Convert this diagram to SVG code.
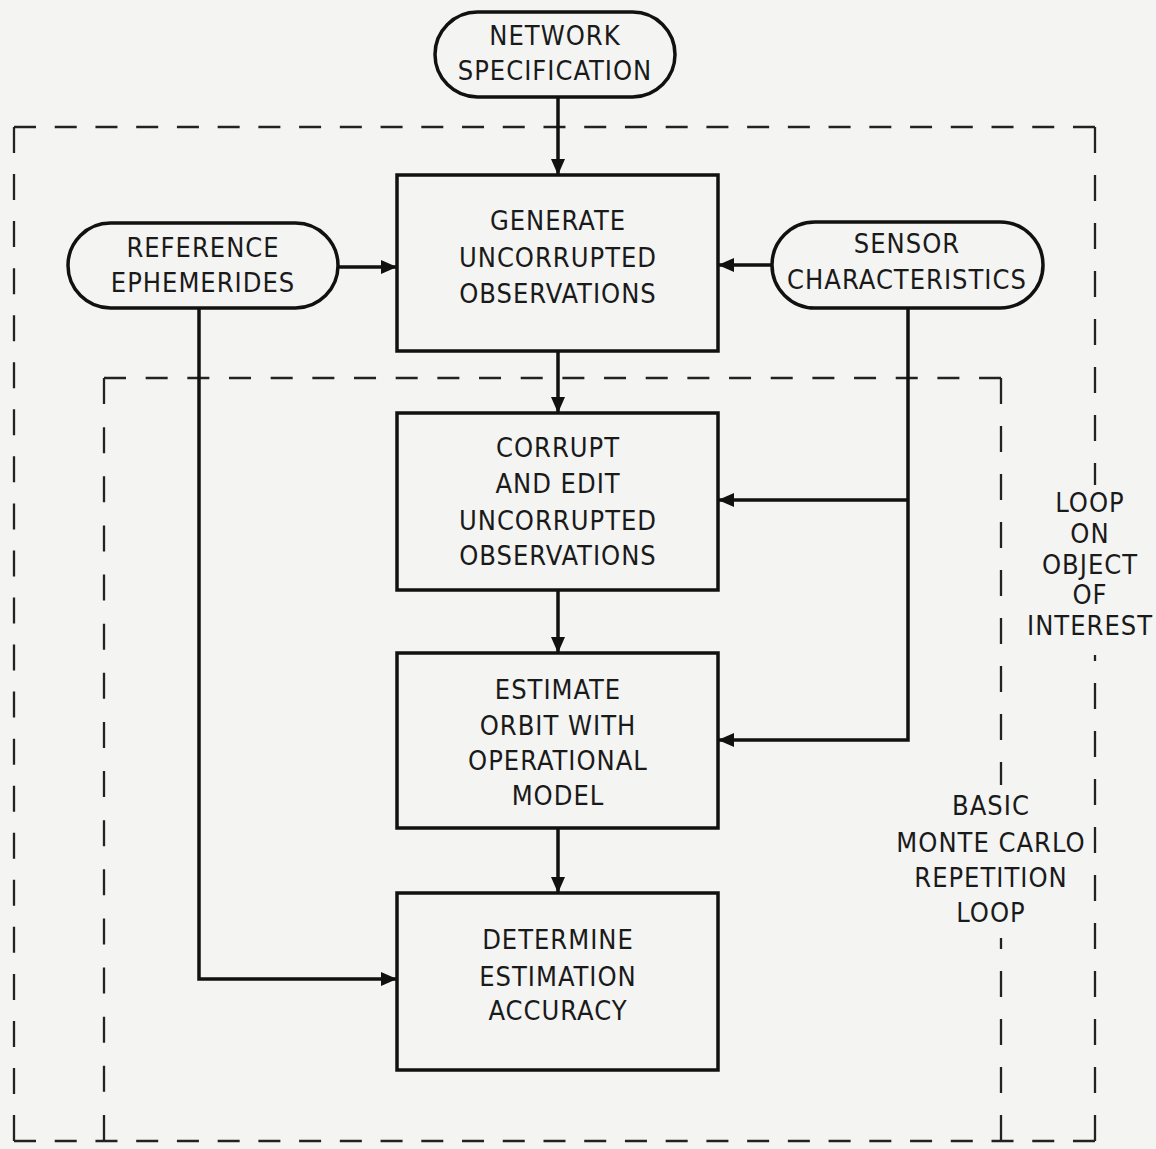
<svg xmlns="http://www.w3.org/2000/svg" width="1156" height="1149" viewBox="0 0 1156 1149">
<defs>
<marker id="ah" markerUnits="userSpaceOnUse" markerWidth="18" markerHeight="14" refX="16" refY="7" orient="auto">
<path d="M0,0 L16,7 L0,14 Z" fill="#111"/>
</marker>
<style>
.bg{fill:#f4f4f3}
.box{fill:none;stroke:#111;stroke-width:3.5}
.term{fill:none;stroke:#111;stroke-width:3.5}
.conn{fill:none;stroke:#111;stroke-width:3.5}
.dash{fill:none;stroke:#222;stroke-width:2.3}
text{font-family:'DejaVu Sans Condensed','DejaVu Sans',sans-serif;font-stretch:condensed;font-size:27px;letter-spacing:1px;fill:#1a1a1a;text-anchor:middle}
</style>
</defs>
<rect class="bg" x="0" y="0" width="1156" height="1149"/>

<g id="loops">
<!-- outer dashed loop -->
<line class="dash" stroke-dasharray="22 18.73" x1="14" y1="127" x2="1095" y2="127"/>
<line class="dash" stroke-dasharray="26 21.05" x1="14" y1="127" x2="14" y2="1141"/>
<line class="dash" stroke-dasharray="22 18.73" x1="14" y1="1141" x2="1095" y2="1141"/>
<line class="dash" stroke-dasharray="26 22" x1="1095" y1="127" x2="1095" y2="485"/>
<line class="dash" stroke-dasharray="26 22" x1="1095" y1="1141" x2="1095" y2="655"/>
<!-- inner dashed loop -->
<line class="dash" stroke-dasharray="22 19.67" x1="104" y1="378" x2="1001" y2="378"/>
<line class="dash" stroke-dasharray="26 23.13" x1="104" y1="378" x2="104" y2="1141"/>
<line class="dash" stroke-dasharray="26 22" x1="1001" y1="378" x2="1001" y2="785"/>
<line class="dash" stroke-dasharray="26 22" x1="1001" y1="1141" x2="1001" y2="938"/>
<text id="loop-object"><tspan x="1090" y="512">LOOP</tspan><tspan x="1090" y="543">ON</tspan><tspan x="1090" y="574">OBJECT</tspan><tspan x="1090" y="604">OF</tspan><tspan x="1090" y="635">INTEREST</tspan></text>
<text id="loop-mc"><tspan x="991" y="815">BASIC</tspan><tspan x="991" y="852">MONTE CARLO</tspan><tspan x="991" y="887">REPETITION</tspan><tspan x="991" y="922">LOOP</tspan></text>
</g>

<g id="connectors">
<line class="conn" x1="558" y1="97" x2="558" y2="175" marker-end="url(#ah)"/>
<line class="conn" x1="338" y1="267" x2="397" y2="267" marker-end="url(#ah)"/>
<line class="conn" x1="772" y1="265" x2="718" y2="265" marker-end="url(#ah)"/>
<line class="conn" x1="558" y1="351" x2="558" y2="413" marker-end="url(#ah)"/>
<line class="conn" x1="558" y1="590" x2="558" y2="653" marker-end="url(#ah)"/>
<line class="conn" x1="558" y1="828" x2="558" y2="893" marker-end="url(#ah)"/>
<path class="conn" d="M199,308 V979 H397" marker-end="url(#ah)"/>
<path class="conn" d="M908,308 V740 H718" marker-end="url(#ah)"/>
<path class="conn" d="M908,500 H718" marker-end="url(#ah)"/>
</g>

<g id="network-spec">
<rect class="term" x="435" y="12" width="240" height="85" rx="42.5" ry="42.5"/>
<text><tspan x="555" y="45">NETWORK</tspan><tspan x="555" y="80">SPECIFICATION</tspan></text>
</g>

<g id="reference-ephemerides">
<rect class="term" x="68" y="223" width="270" height="85" rx="42.5" ry="42.5"/>
<text><tspan x="203" y="257">REFERENCE</tspan><tspan x="203" y="292">EPHEMERIDES</tspan></text>
</g>

<g id="sensor-characteristics">
<rect class="term" x="772" y="222" width="271" height="86" rx="43" ry="43"/>
<text><tspan x="907" y="253">SENSOR</tspan><tspan x="907" y="289">CHARACTERISTICS</tspan></text>
</g>

<g id="generate">
<rect class="box" x="397" y="175" width="321" height="176"/>
<text><tspan x="558" y="230">GENERATE</tspan><tspan x="558" y="267">UNCORRUPTED</tspan><tspan x="558" y="303">OBSERVATIONS</tspan></text>
</g>

<g id="corrupt">
<rect class="box" x="397" y="413" width="321" height="177"/>
<text><tspan x="558" y="457">CORRUPT</tspan><tspan x="558" y="493">AND EDIT</tspan><tspan x="558" y="530">UNCORRUPTED</tspan><tspan x="558" y="565">OBSERVATIONS</tspan></text>
</g>

<g id="estimate">
<rect class="box" x="397" y="653" width="321" height="175"/>
<text><tspan x="558" y="699">ESTIMATE</tspan><tspan x="558" y="735">ORBIT WITH</tspan><tspan x="558" y="770">OPERATIONAL</tspan><tspan x="558" y="805">MODEL</tspan></text>
</g>

<g id="determine">
<rect class="box" x="397" y="893" width="321" height="177"/>
<text><tspan x="558" y="949">DETERMINE</tspan><tspan x="558" y="986">ESTIMATION</tspan><tspan x="558" y="1020">ACCURACY</tspan></text>
</g>
</svg>
